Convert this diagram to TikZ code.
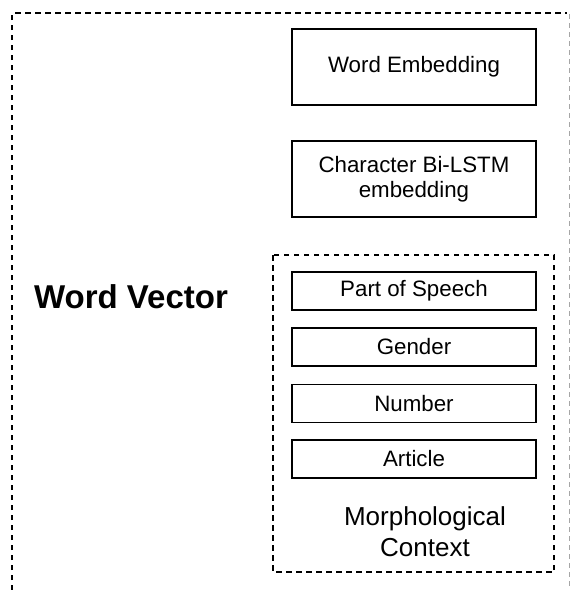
\documentclass[tikz,border=0pt]{standalone}
\usepackage{fontspec}
\setmainfont{Liberation Sans}
\begin{document}
\begin{tikzpicture}[x=1pt,y=-1pt,
  box/.style={draw=black,line width=1.8pt,rectangle,minimum width=244pt,inner sep=0pt,align=center,font=\fontsize{22.3}{25}\selectfont},
  bigbox/.style={box,minimum height=76pt},
  smallbox/.style={box,minimum height=38pt},
  frame/.style={line width=2.3pt,dash pattern=on 5.5pt off 4.5pt},
  lbl/.style={align=center,inner sep=0pt}]
\useasboundingbox (0,0) rectangle (571,590);
% outer frame
\draw[frame] (12,590) -- (12,13) -- (567,13);
\draw[gray!70,line width=0.8pt,dash pattern=on 5pt off 4pt] (569,14) -- (569,590);
\node[lbl,font=\bfseries\fontsize{33}{36}\selectfont] (wv) at (131,297) {Word Vector};
\node[bigbox] (we) at (414,67) {Word Embedding};
\node[bigbox] (ch) at (414,179) {Character Bi-LSTM\\embedding};
% morphological context
\draw[frame] (273,255) rectangle (554,572);
\node[smallbox] (pos) at (414,291) {Part of Speech};
\node[smallbox] (gen) at (414,347) {Gender};
\node[smallbox] (num) at (414,403.5) {Number};
\node[smallbox] (art) at (414,459) {Article};
\node[lbl,font=\fontsize{26}{31}\selectfont] (mc) at (425,532) {Morphological\\Context};
\end{tikzpicture}
\end{document}
